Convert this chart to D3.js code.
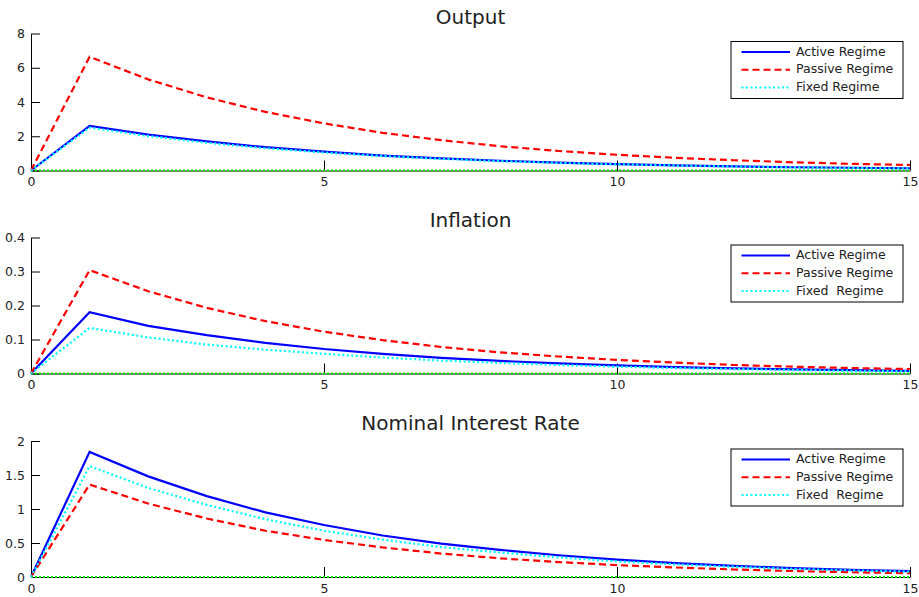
<!DOCTYPE html>
<html>
<head>
<meta charset="utf-8">
<script src="https://cdn.jsdelivr.net/npm/d3@7"></script>
<style>
  html, body { margin: 0; padding: 0; background: #fff; }
  svg text { fill: #222; }
</style>
</head>
<body>
<svg id="chart" width="919" height="597"></svg>
<script>
// Impulse responses over 16 periods under three policy regimes
const periods = d3.range(0, 16);
const xTicks = [0, 5, 10, 15];
const seriesNames = ["Active Regime", "Passive Regime", "Fixed Regime"];
const seriesNamesSpaced = ["Active Regime", "Passive Regime", "Fixed  Regime"];

const outputActive  = [0, 2.61, 2.10, 1.70, 1.36, 1.10, 0.87, 0.71, 0.57, 0.46, 0.37, 0.30, 0.24, 0.19, 0.16, 0.13];
const outputPassive = [0, 6.64, 5.32, 4.27, 3.42, 2.75, 2.20, 1.77, 1.42, 1.14, 0.92, 0.74, 0.60, 0.48, 0.39, 0.32];
const outputFixed   = [0, 2.50, 2.01, 1.62, 1.30, 1.05, 0.84, 0.68, 0.55, 0.44, 0.36, 0.29, 0.23, 0.18, 0.15, 0.12];

const inflActive  = [0, 0.180, 0.140, 0.113, 0.090, 0.072, 0.058, 0.046, 0.037, 0.030, 0.024, 0.019, 0.015, 0.012, 0.010, 0.008];
const inflPassive = [0, 0.304, 0.242, 0.193, 0.154, 0.123, 0.098, 0.078, 0.062, 0.050, 0.040, 0.032, 0.025, 0.020, 0.016, 0.013];
const inflFixed   = [0, 0.134, 0.106, 0.085, 0.070, 0.058, 0.047, 0.038, 0.031, 0.025, 0.020, 0.016, 0.013, 0.010, 0.008, 0.007];

const rateActive  = [0, 1.84, 1.48, 1.19, 0.95, 0.765, 0.61, 0.49, 0.40, 0.32, 0.255, 0.205, 0.165, 0.13, 0.105, 0.085];
const ratePassive = [0, 1.36, 1.08, 0.86, 0.68, 0.545, 0.435, 0.345, 0.275, 0.22, 0.175, 0.14, 0.11, 0.088, 0.07, 0.056];
const rateFixed   = [0, 1.63, 1.31, 1.06, 0.85, 0.68, 0.55, 0.44, 0.36, 0.29, 0.23, 0.185, 0.15, 0.12, 0.097, 0.078];

const steadyState = [0, 0, 0, 0, 0, 0, 0, 0, 0, 0, 0, 0, 0, 0, 0, 0];

const outputTicks = [0, 2, 4, 6, 8];
const inflTicks = [0, 0.1, 0.2, 0.3, 0.4];
const rateTicks = [0, 0.5, 1, 1.5, 2];

const panels = [
  { title: "Output", series: [outputActive, outputPassive, outputFixed], yMax: 8, yTicks: outputTicks,
    names: seriesNames, top: 33.5, bottom: 170.5, titleY: 18, legendTop: 41.5 },
  { title: "Inflation", series: [inflActive, inflPassive, inflFixed], yMax: 0.4, yTicks: inflTicks,
    names: seriesNamesSpaced, top: 237.5, bottom: 373.5, titleY: 221, legendTop: 245 },
  { title: "Nominal Interest Rate", series: [rateActive, ratePassive, rateFixed], yMax: 2, yTicks: rateTicks,
    names: seriesNamesSpaced, top: 441, bottom: 577, titleY: 424, legendTop: 449 }
];

const styles = [
  { color: "#0000ff", dash: null, width: 2.2 },
  { color: "#ff0000", dash: "7,4", width: 2.2 },
  { color: "#00ffff", dash: "2,2.5", width: 2.2 }
];

const svg = d3.select("#chart");
const left = 31, right = 910;
const x = d3.scaleLinear().domain([0, 15]).range([left, right]);
const fontText = "'DejaVu Sans', 'Noto Sans', sans-serif";

panels.forEach(p => {
  const y = d3.scaleLinear().domain([0, p.yMax]).range([p.bottom, p.top]);
  const g = svg.append("g");

  // title
  g.append("text")
    .attr("x", (left + right) / 2).attr("y", p.titleY)
    .attr("text-anchor", "middle").attr("dominant-baseline", "middle")
    .style("font-family", fontText).style("font-size", "20px")
    .text(p.title);

  // y axis: ticks pointing inward
  const yAxis = d3.axisLeft(y).tickValues(p.yTicks).tickSizeInner(-9).tickSizeOuter(0).tickPadding(6)
    .tickFormat(d3.format("~g"));
  const ya = g.append("g").attr("transform", `translate(${left},0)`).call(yAxis);
  ya.select(".domain").attr("stroke", "#000");
  ya.selectAll(".tick line").attr("stroke", "#000");
  ya.selectAll(".tick text").style("font-family", fontText).style("font-size", "12.5px").attr("fill", "#222");

  // x axis: ticks pointing upward
  const xAxis = d3.axisBottom(x).tickValues(xTicks).tickSizeInner(-10).tickSizeOuter(0).tickPadding(7);
  const xa = g.append("g").attr("transform", `translate(0,${p.bottom})`).call(xAxis);
  xa.select(".domain").attr("stroke", "#000");
  xa.selectAll(".tick line").attr("stroke", "#000");
  xa.selectAll(".tick text").style("font-family", fontText).style("font-size", "12.5px").attr("fill", "#222");

  const line = d3.line().x((d, i) => x(periods[i])).y(d => y(d));

  // steady-state reference line
  g.append("path").datum(steadyState).attr("d", line)
    .attr("fill", "none").attr("stroke", "#00f000").attr("stroke-width", 2.2)
    .attr("stroke-dasharray", "2,2");

  p.series.forEach((s, k) => {
    g.append("path").datum(s).attr("d", line)
      .attr("fill", "none").attr("stroke", styles[k].color)
      .attr("stroke-width", styles[k].width)
      .attr("stroke-dasharray", styles[k].dash)
      .attr("stroke-linejoin", "miter");
  });

  // legend
  const lx = 731, lw = 172, lh = 57;
  const lg = g.append("g").attr("transform", `translate(${lx},${p.legendTop})`);
  lg.append("rect").attr("width", lw).attr("height", lh)
    .attr("fill", "#fff").attr("stroke", "#000").attr("stroke-width", 1);
  p.names.forEach((n, k) => {
    const ry = 10.5 + k * 17.8;
    lg.append("line").attr("x1", 10.5).attr("x2", 59).attr("y1", ry).attr("y2", ry)
      .attr("stroke", styles[k].color).attr("stroke-width", 2)
      .attr("stroke-dasharray", styles[k].dash);
    lg.append("text").attr("x", 65).attr("y", ry).attr("dominant-baseline", "middle")
      .style("font-family", fontText).style("font-size", "12.5px").style("white-space", "pre")
      .attr("xml:space", "preserve")
      .text(n);
  });
});
</script>
</body>
</html>
